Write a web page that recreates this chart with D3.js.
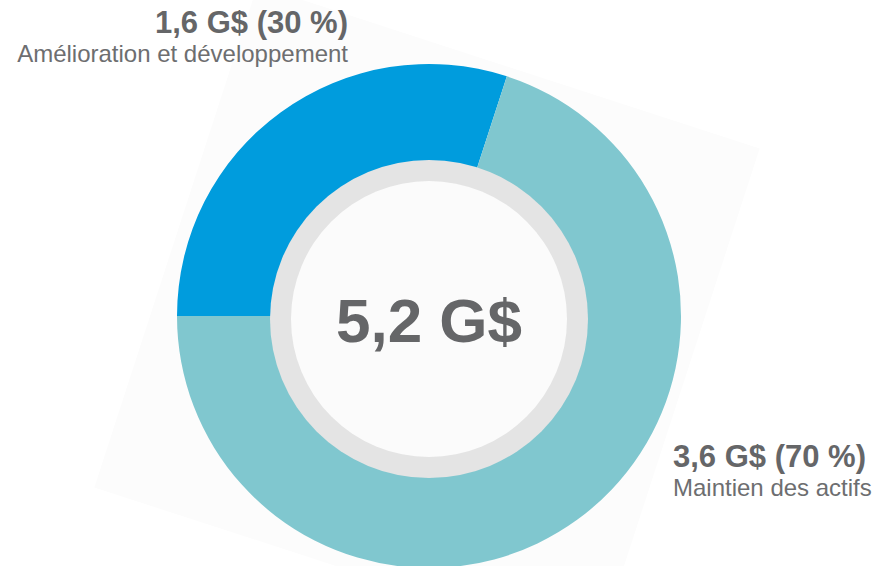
<!DOCTYPE html>
<html>
<head>
<meta charset="utf-8">
<script src="https://cdn.jsdelivr.net/npm/d3@7"></script>
<style>
  body { margin: 0; background: #fff; }
  svg { display: block; font-family: "Liberation Sans", Arial, sans-serif; }
</style>
</head>
<body>
<div class="donutChart"></div>
<script>
// data
const categories = ['Amélioration et développement', 'Maintien des actifs'];
const amounts = ['1,6 G$', '3,6 G$'];
const percents = [30, 70];
const total = '5,2 G$';
const colors = ['#009cdd', '#80c7cf'];

const width = 892;
const height = 566;
const cx = 429, cy = 316;

const svg = d3.select('.donutChart')
              .append('svg')
              .attr('width', width)
              .attr('height', height);

// faint rotated square behind the ring
svg.append('rect')
    .attr('x', cx - 2 - 264)
    .attr('y', cy + 2 - 264)
    .attr('width', 528)
    .attr('height', 528)
    .attr('fill', '#fcfcfc')
    .attr('transform', `rotate(18, ${cx - 2}, ${cy + 2})`);

const g = svg.append('g')
              .attr('transform', `translate(${cx}, ${cy})`);

const data = categories.map((c, i) => ({name: c, amount: amounts[i], pct: percents[i]}));

const pie = d3.pie()
              .sort(null)
              .value(d => d.pct)
              .startAngle(-Math.PI / 2)
              .endAngle(Math.PI * 1.5);

const arc = d3.arc()
              .innerRadius(150)
              .outerRadius(252);

g.selectAll('path')
    .data(pie(data))
    .enter()
    .append('path')
    .attr('d', arc)
    .attr('fill', (d, i) => colors[i]);

// grey ring + inner disc
g.append('circle')
    .attr('cx', 0)
    .attr('cy', 3)
    .attr('r', 159)
    .attr('fill', '#e4e4e4');

g.append('circle')
    .attr('cx', 0)
    .attr('cy', 3)
    .attr('r', 138)
    .attr('fill', '#fbfbfb');

g.append('text')
    .attr('x', 0)
    .attr('y', 26)
    .attr('text-anchor', 'middle')
    .attr('font-size', '62px')
    .attr('font-weight', 'bold')
    .attr('fill', '#656668')
    .text(total);

// labels
const labelPos = [
  {x: 348, y: 33, anchor: 'end'},
  {x: 673, y: 467, anchor: 'start'}
];

const labels = svg.selectAll('.label')
    .data(data)
    .enter()
    .append('g')
    .attr('class', 'label')
    .attr('transform', (d, i) => `translate(${labelPos[i].x}, ${labelPos[i].y})`);

labels.append('text')
    .attr('text-anchor', (d, i) => labelPos[i].anchor)
    .attr('font-size', '31px')
    .attr('font-weight', 'bold')
    .attr('fill', '#656668')
    .text(d => `${d.amount} (${d.pct} %)`);

labels.append('text')
    .attr('y', 29)
    .attr('text-anchor', (d, i) => labelPos[i].anchor)
    .attr('font-size', '24px')
    .attr('fill', '#6d6e70')
    .text(d => d.name);
</script>
</body>
</html>
